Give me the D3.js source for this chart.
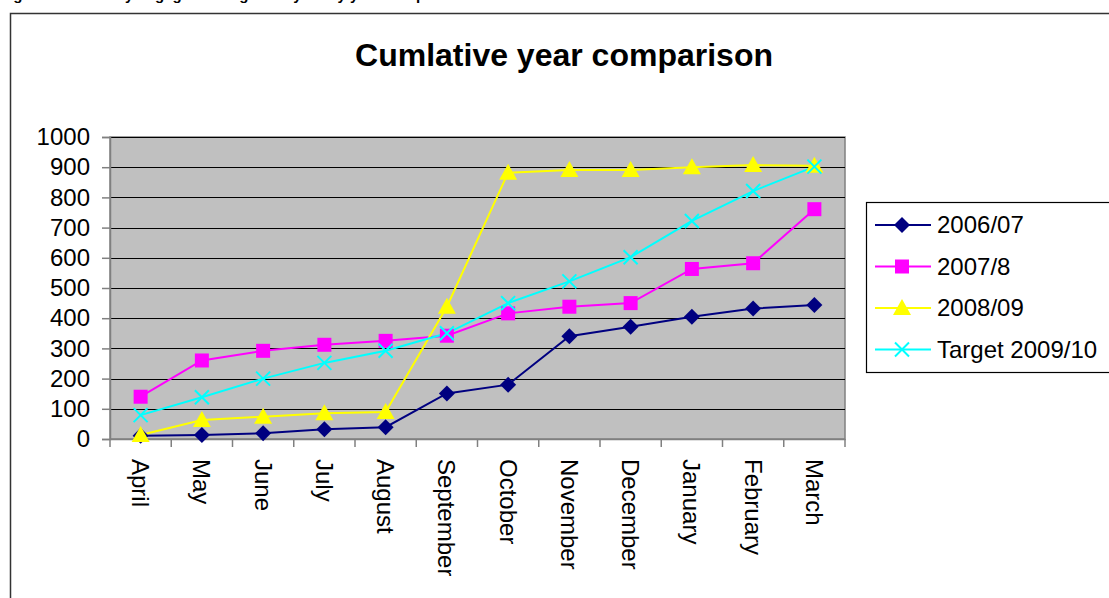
<!DOCTYPE html>
<html><head><meta charset="utf-8">
<script src="https://cdn.jsdelivr.net/npm/d3@7"></script>
<style>
html,body{margin:0;padding:0;background:#fff;overflow:hidden}
svg{display:block;font-family:"Liberation Sans",Arial,sans-serif}
</style></head>
<body>
<svg id="c" width="1109" height="598"></svg>
<script>
const months = ["April","May","June","July","August","September","October","November","December","January","February","March"];
const s2006 = [11,13,19,32,39,151,180,340,372,405,432,444];
const s2007 = [140,260,292,312,325,342,416,438,450,563,582,761];
const s2008 = [13,63,74,85,89,438,882,891,891,900,907,905];
const sTarget = [79,138,200,252,292,350,450,522,602,722,821,902];
const seriesNames = ["2006/07","2007/8","2008/09","Target 2009/10"];
const yTicks = [0,100,200,300,400,500,600,700,800,900,1000];

const series = [
  {name:seriesNames[0], values:s2006, color:"#000080", marker:"diamond"},
  {name:seriesNames[1], values:s2007, color:"#ff00ff", marker:"square"},
  {name:seriesNames[2], values:s2008, color:"#ffff00", marker:"triangle"},
  {name:seriesNames[3], values:sTarget, color:"#00ffff", marker:"cross"}
];

const svg = d3.select("#c");
// caption above the chart, cut off by the top edge as in the reference
svg.append("text").attr("x",0).attr("y",0).attr("font-size",15).attr("font-weight","bold")
  .text("Figure 10: Monthly engagement figures - year by year comparison");
// outer chart border
svg.append("rect").attr("x",10.5).attr("y",13.5).attr("width",1110).attr("height",600)
  .attr("fill","#fff").attr("stroke","#333").attr("stroke-width",1.5);

svg.append("text").attr("x",564).attr("y",66).attr("text-anchor","middle")
  .attr("font-size",32).attr("font-weight","bold").text("Cumlative year comparison");

const L=110, R=845, T=137, B=439;
const x = d3.scaleBand().domain(months).range([L,R]);
const y = d3.scaleLinear().domain([0,1000]).range([B,T]);

svg.append("rect").attr("x",L).attr("y",T).attr("width",R-L).attr("height",B-T)
  .attr("fill","#c0c0c0").attr("stroke","#808080").attr("stroke-width",1.5);

svg.append("g").selectAll("line").data(yTicks.filter(d=>d>0)).join("line")
  .attr("x1",L).attr("x2",R).attr("y1",d=>Math.round(y(d))+0.5).attr("y2",d=>Math.round(y(d))+0.5)
  .attr("stroke","#000").attr("stroke-width",1.2);

const yAxis = svg.append("g").attr("transform",`translate(${L},0)`)
  .call(d3.axisLeft(y).tickValues(yTicks).tickFormat(d3.format("d")).tickSize(8).tickPadding(12));
yAxis.select(".domain").attr("stroke","#808080").attr("stroke-width",1.5);
yAxis.selectAll(".tick line").attr("stroke","#808080").attr("stroke-width",1.5);
yAxis.selectAll("text").attr("font-size",24).attr("fill","#000").attr("font-family","Liberation Sans, Arial, sans-serif");

const xAxis = svg.append("g").attr("transform",`translate(0,${B})`)
  .call(d3.axisBottom(x).tickSize(0).tickFormat(""));
xAxis.select(".domain").attr("stroke","#808080").attr("stroke-width",1.5);
svg.append("g").selectAll("line").data(months.concat(["_end"])).join("line")
  .attr("x1",(d,i)=>L+i*x.bandwidth()).attr("x2",(d,i)=>L+i*x.bandwidth())
  .attr("y1",B).attr("y2",B+8).attr("stroke","#808080").attr("stroke-width",1.5);
svg.append("g").selectAll("text").data(months).join("text")
  .attr("transform",d=>`translate(${x(d)+x.bandwidth()/2},${B+20}) rotate(90)`)
  .attr("dy","0.35em").attr("font-size",24).text(d=>d);

function marker(g, type, color){
  if(type==="diamond"){
    g.append("path").attr("d","M0,-8L8,0L0,8L-8,0Z").attr("fill",color);
  } else if(type==="square"){
    g.append("rect").attr("x",-7).attr("y",-7).attr("width",14).attr("height",14).attr("fill",color);
  } else if(type==="triangle"){
    g.append("path").attr("d","M0,-9L9,7L-9,7Z").attr("fill",color);
  } else {
    g.append("path").attr("d","M-7,-7L7,7M-7,7L7,-7").attr("stroke",color).attr("stroke-width",2);
  }
}

const line = d3.line().x((d,i)=>x(months[i])+x.bandwidth()/2).y(d=>y(d));
series.forEach(s=>{
  svg.append("path").datum(s.values).attr("d",line).attr("fill","none")
    .attr("stroke",s.color).attr("stroke-width",2);
});
series.forEach(s=>{
  s.values.forEach((v,i)=>{
    const g = svg.append("g").attr("transform",`translate(${x(months[i])+x.bandwidth()/2},${y(v)})`);
    marker(g, s.marker, s.color);
  });
});

// legend
const lg = svg.append("g");
lg.append("rect").attr("x",866.5).attr("y",202.5).attr("width",300).attr("height",170)
  .attr("fill","#fff").attr("stroke","#000").attr("stroke-width",1.2);
series.forEach((s,i)=>{
  const cy = 225 + i*41.5;
  lg.append("line").attr("x1",875).attr("x2",931).attr("y1",cy).attr("y2",cy)
    .attr("stroke",s.color).attr("stroke-width",2);
  const g = lg.append("g").attr("transform",`translate(902,${cy})`);
  marker(g, s.marker, s.color);
  lg.append("text").attr("x",937).attr("y",cy).attr("dy","0.35em").attr("font-size",24).text(s.name);
});
</script>
</body></html>
